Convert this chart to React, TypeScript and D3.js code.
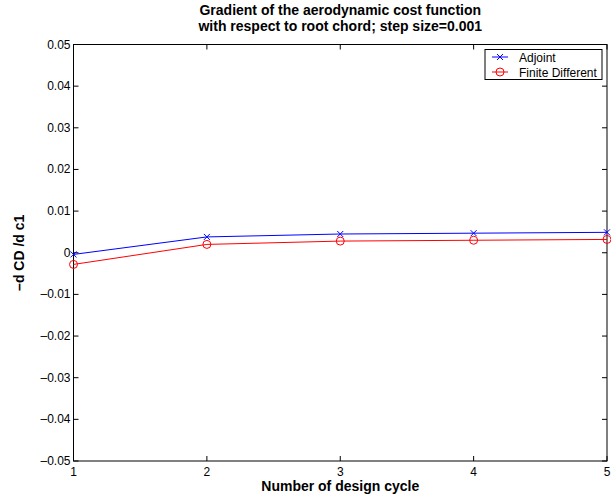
import React from "react";
import * as d3 from "d3";

const cycles = [1, 2, 3, 4, 5];
const adjoint = [-0.0004, 0.0038, 0.0045, 0.0047, 0.0049];
const finiteDiff = [-0.0028, 0.002, 0.0028, 0.003, 0.0032];
const yTicks = [-0.05, -0.04, -0.03, -0.02, -0.01, 0, 0.01, 0.02, 0.03, 0.04, 0.05];
const xTicks = [1, 2, 3, 4, 5];
const seriesNames = ["Adjoint", "Finite Different"];

const W = 611;
const H = 498;
const m = { left: 73.5, right: 607, top: 44.5, bottom: 461 };

const fmtY = (v: number) => {
  if (v === 0) return "0";
  const s = Math.abs(v).toFixed(2);
  return v < 0 ? "\u2013" + s : s;
};

export default function App() {
  const x = d3.scaleLinear().domain([1, 5]).range([m.left, m.right]);
  const y = d3.scaleLinear().domain([-0.05, 0.05]).range([m.bottom, m.top]);
  const line = d3
    .line<number>()
    .x((_, i) => x(cycles[i]))
    .y((d) => y(d));
  const font = "'Liberation Sans', Arial, Helvetica, sans-serif";
  const tk = 5;
  const lx = 485;
  const ly = 49.5;
  const cx = (m.left + m.right) / 2;
  return (
    <svg
      width={W}
      height={H}
      style={{ position: "absolute", left: 0, top: 0, background: "#fff" }}
      fontFamily={font}
    >
      <rect x={0} y={0} width={W} height={H} fill="#fff" />
      <text x={cx} y={15} textAnchor="middle" fontSize={14} fontWeight="bold">
        Gradient of the aerodynamic cost function
      </text>
      <text x={cx} y={30.5} textAnchor="middle" fontSize={14} fontWeight="bold">
        {" with respect to root chord; step size=0.001"}
      </text>
      <rect
        x={m.left}
        y={m.top}
        width={m.right - m.left}
        height={m.bottom - m.top}
        fill="none"
        stroke="#000"
        strokeWidth={1}
      />
      {yTicks.map((t) => (
        <g key={"y" + t}>
          <line x1={m.left} x2={m.left + tk} y1={y(t)} y2={y(t)} stroke="#000" />
          <line x1={m.right} x2={m.right - tk} y1={y(t)} y2={y(t)} stroke="#000" />
          <text x={m.left - 3} y={y(t) + 4} textAnchor="end" fontSize={12}>
            {fmtY(t)}
          </text>
        </g>
      ))}
      {xTicks.map((t) => (
        <g key={"x" + t}>
          <line x1={x(t)} x2={x(t)} y1={m.bottom} y2={m.bottom - tk} stroke="#000" />
          <line x1={x(t)} x2={x(t)} y1={m.top} y2={m.top + tk} stroke="#000" />
          <text x={x(t)} y={m.bottom + 15} textAnchor="middle" fontSize={12}>
            {t}
          </text>
        </g>
      ))}
      <text x={cx} y={491} textAnchor="middle" fontSize={14} fontWeight="bold">
        Number of design cycle
      </text>
      <text
        transform={`translate(24, ${(m.top + m.bottom) / 2}) rotate(-90)`}
        textAnchor="middle"
        fontSize={14}
        fontWeight="bold"
      >
        {"\u2013d CD /d c1"}
      </text>
      <path d={line(adjoint) ?? ""} fill="none" stroke="#0000ff" strokeWidth={1} />
      <path d={line(finiteDiff) ?? ""} fill="none" stroke="#ff0000" strokeWidth={1} />
      {adjoint.map((v, i) => (
        <g key={"a" + i} stroke="#0000ff" strokeWidth={1}>
          <line x1={x(cycles[i]) - 3} x2={x(cycles[i]) + 3} y1={y(v) - 3} y2={y(v) + 3} />
          <line x1={x(cycles[i]) - 3} x2={x(cycles[i]) + 3} y1={y(v) + 3} y2={y(v) - 3} />
        </g>
      ))}
      {finiteDiff.map((v, i) => (
        <circle key={"f" + i} cx={x(cycles[i])} cy={y(v)} r={4} fill="none" stroke="#ff0000" />
      ))}
      <rect x={lx} y={ly} width={117} height={30} fill="#fff" stroke="#000" />
      <line x1={lx + 7} x2={lx + 23} y1={ly + 7.5} y2={ly + 7.5} stroke="#0000ff" />
      <line x1={lx + 12} x2={lx + 18} y1={ly + 4.5} y2={ly + 10.5} stroke="#0000ff" />
      <line x1={lx + 12} x2={lx + 18} y1={ly + 10.5} y2={ly + 4.5} stroke="#0000ff" />
      <text x={lx + 34} y={ly + 12} fontSize={12}>
        {seriesNames[0]}
      </text>
      <line x1={lx + 7} x2={lx + 23} y1={ly + 22.5} y2={ly + 22.5} stroke="#ff0000" />
      <circle cx={lx + 15} cy={ly + 22.5} r={4} fill="none" stroke="#ff0000" />
      <text x={lx + 34} y={ly + 27} fontSize={12}>
        {seriesNames[1]}
      </text>
    </svg>
  );
}
